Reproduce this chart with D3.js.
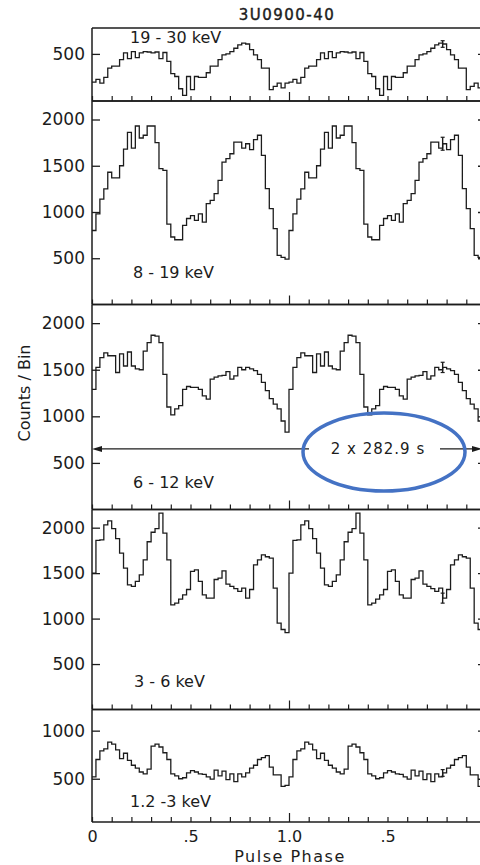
<!DOCTYPE html>
<html>
<head>
<meta charset="utf-8">
<script src="https://cdn.jsdelivr.net/npm/d3@7"></script>
<style>
  html, body { margin: 0; padding: 0; background: #fff; }
  svg { display: block; }
  text { font-family: "DejaVu Sans", sans-serif; fill: #1c1c1c; }
</style>
</head>
<body>
<div id="chart"></div>
<script>
// ---------------- DATA (one pulse cycle, 50 phase bins; the figure shows the cycle twice) ----------------
const title = "3U0900-40";
const bandLabels = ["19 - 30 keV", "8 - 19 keV", "6 - 12 keV", "3 - 6 keV", "1.2 -3 keV"];

const counts19to30 = [200, 230, 190, 250, 350, 370, 370, 440, 510, 450,
                      525, 460, 510, 525, 520, 510, 520, 450, 515, 420,
                      290, 260, 130, 60, 260, 120, 260, 250, 250, 300,
                      370, 370, 440, 490, 500, 525, 560, 595, 615, 605,
                      545, 490, 440, 350, 350, 120, 155, 190, 140, 190];

const counts8to19 = [800, 980, 1140, 1250, 1430, 1370, 1370, 1500, 1680, 1860,
                     1690, 1930, 1800, 1830, 1930, 1930, 1750, 1470, 1450, 870,
                     730, 700, 700, 856, 930, 960, 910, 980, 890, 1090,
                     1126, 1198, 1342, 1540, 1576, 1630, 1756, 1756, 1690, 1738,
                     1674, 1782, 1830, 1612, 1252, 1036, 820, 532, 510, 490];

const counts6to12 = [1290, 1525, 1630, 1680, 1650, 1650, 1470, 1670, 1540, 1690,
                     1540, 1510, 1500, 1700, 1790, 1870, 1860, 1790, 1450, 1100,
                     1015, 1080, 1115, 1290, 1320, 1310, 1310, 1290, 1220, 1185,
                     1400, 1420, 1435, 1440, 1480, 1400, 1435, 1525, 1500, 1525,
                     1510, 1490, 1450, 1365, 1275, 1190, 1130, 1080, 950, 830];

const counts3to6 = [1500, 1860, 1865, 2030, 2075, 1990, 1880, 1720, 1555, 1370,
                    1355, 1410, 1480, 1645, 1845, 1950, 1990, 2160, 1940, 1645,
                    1150, 1170, 1215, 1260, 1320, 1520, 1535, 1410, 1260, 1225,
                    1225, 1430, 1445, 1525, 1380, 1355, 1330, 1300, 1335, 1225,
                    1320, 1590, 1645, 1700, 1680, 1665, 1335, 950, 880, 845];

const counts1to3 = [520, 700, 790, 810, 880, 860, 800, 710, 765, 690,
                    640, 610, 570, 550, 600, 840, 860, 830, 770, 700,
                    550, 530, 500, 510, 560, 585, 570, 550, 545, 520,
                    495, 590, 530, 580, 490, 550, 470, 550, 520, 560,
                    610, 640, 700, 720, 740, 620, 540, 540, 420, 430];

const yDomains = [[0, 775], [0, 2200], [0, 2200], [0, 2200], [50, 1220]];
const yTickValues = [[500], [500, 1000, 1500, 2000], [500, 1000, 1500, 2000], [500, 1000, 1500, 2000], [500, 1000]];

const phaseTickValues = [0, 0.5, 1.0, 1.5];
const phaseTickLabels = ["0", ".5", "1.0", ".5"];

const errorPhase = 1.78;
const errorHalfWidths = [35, 70, 55, 55, 35];

const periodLabel = "2 x 282.9 s";
const periodLineValue = 650;   // in 6-12 keV panel units

// ---------------- LAYOUT ----------------
const W = 480, H = 865;
const panelTops = [28, 101, 304.5, 509.5, 709.5];
const panelBottoms = [101, 304.5, 509.5, 709.5, 822];
const labelBaselines = [43, 278, 488, 687, 807];
const labelX = [130, 133, 133, 134, 130];
const ink = "#1c1c1c";

const cycles = [counts19to30, counts8to19, counts6to12, counts3to6, counts1to3];
const nBins = counts8to19.length;
const binWidth = 1 / nBins;

const svg = d3.select("#chart").append("svg")
  .attr("width", W).attr("height", H);

const x = d3.scaleLinear().domain([0, 2]).range([92, 486]);
const minorTicks = d3.range(0, 21).map(i => i / 10);

// title
svg.append("text")
  .attr("x", 287).attr("y", 20)
  .attr("text-anchor", "middle")
  .style("font-size", "15px")
  .style("letter-spacing", "1.5px")
  .attr("stroke", ink).attr("stroke-width", 0.4)
  .text(title);

cycles.forEach((cycle, p) => {
  const y = d3.scaleLinear().domain(yDomains[p]).range([panelBottoms[p], panelTops[p]]);
  const g = svg.append("g");

  // frame lines
  g.append("line").attr("x1", 92).attr("x2", 486)
    .attr("y1", panelTops[p]).attr("y2", panelTops[p])
    .attr("stroke", ink).attr("stroke-width", 1.5);
  g.append("line").attr("x1", 92).attr("x2", 486)
    .attr("y1", panelBottoms[p]).attr("y2", panelBottoms[p])
    .attr("stroke", ink).attr("stroke-width", 1.5);
  g.append("line").attr("x1", 92).attr("x2", 92)
    .attr("y1", panelTops[p]).attr("y2", panelBottoms[p])
    .attr("stroke", ink).attr("stroke-width", 1.5);

  // left axis (inward ticks)
  const left = g.append("g").attr("transform", "translate(92,0)")
    .call(d3.axisLeft(y).tickValues(yTickValues[p]).tickSize(-8).tickPadding(7).tickFormat(d3.format("d")));
  left.select(".domain").remove();
  left.selectAll("line").attr("stroke", ink).attr("stroke-width", 1.3);
  left.selectAll("text").style("font-size", "17px").style("font-family", "DejaVu Sans, sans-serif").attr("fill", ink);

  // right axis (inward ticks, no labels)
  const right = g.append("g").attr("transform", "translate(486,0)")
    .call(d3.axisRight(y).tickValues(yTickValues[p]).tickSize(-8).tickFormat(""));
  right.select(".domain").remove();
  right.selectAll("line").attr("stroke", ink).attr("stroke-width", 1.3);

  // bottom minor ticks
  const bottom = g.append("g").attr("transform", `translate(0,${panelBottoms[p]})`)
    .call(d3.axisBottom(x).tickValues(minorTicks).tickSize(-5).tickFormat(""));
  bottom.select(".domain").remove();
  bottom.selectAll("line").attr("stroke", ink).attr("stroke-width", 1.2)
    .attr("y2", d => (Math.abs(d - 1) < 1e-9 ? -9 : -5));

  // histogram (two cycles)
  const values = cycle.concat(cycle);
  const pts = values.map((v, i) => [i * binWidth, v]);
  pts.push([2, values[values.length - 1]]);
  const line = d3.line().x(d => x(d[0])).y(d => y(d[1])).curve(d3.curveStepAfter);
  g.append("path").attr("d", line(pts))
    .attr("fill", "none").attr("stroke", ink).attr("stroke-width", 1.3);

  // error bar
  const ei = Math.round(errorPhase / binWidth);
  const ev = values[ei];
  const ex = x(errorPhase);
  g.append("line").attr("x1", ex).attr("x2", ex)
    .attr("y1", y(ev - errorHalfWidths[p])).attr("y2", y(ev + errorHalfWidths[p]))
    .attr("stroke", ink).attr("stroke-width", 1.4);
  [ev - errorHalfWidths[p], ev + errorHalfWidths[p]].forEach(v => {
    g.append("line").attr("x1", ex - 2).attr("x2", ex + 2)
      .attr("y1", y(v)).attr("y2", y(v))
      .attr("stroke", ink).attr("stroke-width", 1.2);
  });

  // band label
  g.append("text").attr("x", labelX[p]).attr("y", labelBaselines[p])
    .style("font-size", "16px").text(bandLabels[p]);

  // period arrow in the 6-12 keV panel
  if (p === 2) {
    const ly = y(periodLineValue);
    const a = g.append("g");
    a.append("line").attr("x1", 98).attr("x2", 309).attr("y1", ly).attr("y2", ly)
      .attr("stroke", ink).attr("stroke-width", 1.3);
    a.append("line").attr("x1", 440).attr("x2", 475).attr("y1", ly).attr("y2", ly)
      .attr("stroke", ink).attr("stroke-width", 1.3);
    a.append("path").attr("d", `M92,${ly} L102,${ly - 3} L102,${ly + 3} Z`).attr("fill", ink);
    a.append("path").attr("d", `M482,${ly} L472,${ly - 3} L472,${ly + 3} Z`).attr("fill", ink);
    a.append("text").attr("x", 378).attr("y", ly + 5.5)
      .attr("text-anchor", "middle").style("font-size", "15px")
      .style("letter-spacing", "1px").text(periodLabel);
    a.append("ellipse").attr("cx", 384).attr("cy", 452).attr("rx", 81).attr("ry", 39)
      .attr("fill", "none").attr("stroke", "#4472C4").attr("stroke-width", 3.5);
  }

  // x tick labels on the bottom panel
  if (p === cycles.length - 1) {
    const xl = g.append("g").attr("transform", `translate(0,${panelBottoms[p]})`)
      .call(d3.axisBottom(x).tickValues(phaseTickValues).tickSize(0).tickPadding(9)
        .tickFormat((d, i) => phaseTickLabels[i]));
    xl.select(".domain").remove();
    xl.selectAll("text").style("font-size", "16px").style("font-family", "DejaVu Sans, sans-serif").attr("fill", ink);
  }
});

// axis titles
svg.append("text")
  .attr("transform", "translate(30,393) rotate(-90)")
  .attr("text-anchor", "middle")
  .style("font-size", "16px")
  .text("Counts / Bin");

svg.append("text")
  .attr("x", 290).attr("y", 862)
  .attr("text-anchor", "middle")
  .style("font-size", "16px").style("letter-spacing", "1.5px")
  .text("Pulse Phase");
</script>
</body>
</html>
